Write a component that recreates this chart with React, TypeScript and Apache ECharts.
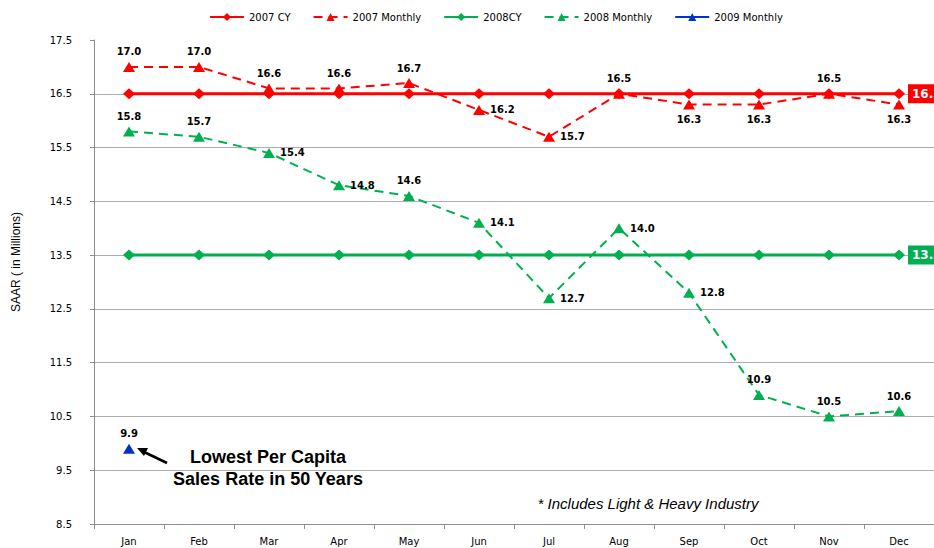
import React, { useEffect, useRef } from "react";
import * as echarts from "echarts";

const months = ["Jan", "Feb", "Mar", "Apr", "May", "Jun", "Jul", "Aug", "Sep", "Oct", "Nov", "Dec"];
const cy2007 = [16.5, 16.5, 16.5, 16.5, 16.5, 16.5, 16.5, 16.5, 16.5, 16.5, 16.5, 16.5];
const monthly2007 = [17.0, 17.0, 16.6, 16.6, 16.7, 16.2, 15.7, 16.5, 16.3, 16.3, 16.5, 16.3];
const cy2008 = [13.5, 13.5, 13.5, 13.5, 13.5, 13.5, 13.5, 13.5, 13.5, 13.5, 13.5, 13.5];
const monthly2008 = [15.8, 15.7, 15.4, 14.8, 14.6, 14.1, 12.7, 14.0, 12.8, 10.9, 10.5, 10.6];
const monthly2009 = [9.9];
const yTicks = [8.5, 9.5, 10.5, 11.5, 12.5, 13.5, 14.5, 15.5, 16.5, 17.5];

const pos2007 = ["top", "top", "top", "top", "top", "right", "right", "top", "bottom", "bottom", "top", "bottom"];
const pos2008 = ["top", "top", "right", "right", "top", "right", "right", "right", "right", "top", "top", "top"];

const RED = "#FF0000";
const GREEN = "#00B050";
const BLUE = "#0033CC";
const FONT = "DejaVu Sans";

const valueLabel = {
  show: true,
  color: "#000",
  fontFamily: FONT,
  fontWeight: "bold" as const,
  fontSize: 10,
  distance: 5,
  formatter: (p: any) => Number(p.value).toFixed(1),
};

function cyData(values: number[], color: string) {
  return values.map((v, i) =>
    i === values.length - 1
      ? {
          value: v,
          label: {
            show: true,
            position: "right",
            distance: 3,
            backgroundColor: color,
            color: "#fff",
            fontFamily: FONT,
            fontWeight: "bold",
            fontSize: 12,
            padding: [4, 5, 3, 4],
            formatter: (p: any) => Number(p.value).toFixed(1),
          },
        }
      : { value: v }
  );
}

function monthlyData(values: number[], positions: string[]) {
  return values.map((v, i) => ({ value: v, label: { ...valueLabel, position: positions[i] } }));
}

export default function App() {
  const ref = useRef<HTMLDivElement>(null);
  useEffect(() => {
    if (!ref.current) return;
    const chart = echarts.init(ref.current, null, { renderer: "svg" });
    chart.setOption({
      animation: false,
      backgroundColor: "#fff",
      textStyle: { fontFamily: FONT },
      legend: {
        left: 204,
        top: 7,
        itemWidth: 34,
        itemHeight: 10,
        itemGap: 22,
        textStyle: { fontFamily: FONT, fontSize: 10, color: "#000" },
        data: ["2007 CY", "2007 Monthly", "2008CY", "2008 Monthly", "2009 Monthly"],
      },
      grid: { left: 94, right: 0, top: 40, bottom: 24, containLabel: false },
      xAxis: {
        type: "category",
        data: months,
        boundaryGap: true,
        axisLine: { lineStyle: { color: "#8C8C8C", width: 1 } },
        axisTick: { show: true, length: 5, lineStyle: { color: "#8C8C8C" } },
        axisLabel: { fontFamily: FONT, fontSize: 10, color: "#000", margin: 12 },
        splitLine: { show: false },
      },
      yAxis: {
        type: "value",
        min: 8.5,
        max: 17.5,
        axisLine: { show: true, lineStyle: { color: "#8C8C8C", width: 1 } },
        axisTick: { show: true, length: 4, customValues: yTicks, lineStyle: { color: "#8C8C8C" } },
        axisLabel: {
          customValues: yTicks,
          fontFamily: FONT,
          fontSize: 10,
          color: "#000",
          margin: 22,
          formatter: (v: number) => v.toFixed(1),
        },
        splitLine: { show: true, showMaxLine: false, lineStyle: { color: "#ADADAD", width: 1 } },
      },
      graphic: [
        {
          type: "text",
          x: 16,
          y: 262,
          rotation: Math.PI / 2,
          style: {
            text: "SAAR ( in Millions)",
            fontFamily: "Liberation Sans",
            fontSize: 12,
            fill: "#000",
            align: "center",
            verticalAlign: "middle",
          },
        },
        {
          type: "text",
          x: 268,
          y: 457,
          style: {
            text: "Lowest Per Capita",
            fontFamily: "Liberation Sans",
            fontWeight: "bold",
            fontSize: 18,
            fill: "#000",
            align: "center",
            verticalAlign: "middle",
          },
        },
        {
          type: "text",
          x: 268,
          y: 479,
          style: {
            text: "Sales Rate in 50 Years",
            fontFamily: "Liberation Sans",
            fontWeight: "bold",
            fontSize: 18,
            fill: "#000",
            align: "center",
            verticalAlign: "middle",
          },
        },
        {
          type: "line",
          shape: { x1: 167, y1: 463, x2: 142, y2: 451 },
          style: { stroke: "#000", lineWidth: 2.5 },
        },
        {
          type: "polygon",
          shape: { points: [[137, 448], [148, 448], [144, 456]] },
          style: { fill: "#000" },
        },
        {
          type: "text",
          x: 648,
          y: 503,
          style: {
            text: "* Includes Light & Heavy Industry",
            fontFamily: "Liberation Sans",
            fontStyle: "italic",
            fontSize: 15,
            fill: "#000",
            align: "center",
            verticalAlign: "middle",
          },
        },
      ],
      series: [
        {
          name: "2007 CY",
          type: "line",
          data: cyData(cy2007, RED),
          symbol: "diamond",
          symbolSize: [12, 11],
          itemStyle: { color: RED },
          lineStyle: { color: RED, width: 3 },
          z: 2,
        },
        {
          name: "2007 Monthly",
          type: "line",
          data: monthlyData(monthly2007, pos2007),
          symbol: "triangle",
          symbolSize: [12, 10],
          itemStyle: { color: RED },
          lineStyle: { color: RED, width: 2, type: [9, 6] },
          z: 3,
        },
        {
          name: "2008CY",
          type: "line",
          data: cyData(cy2008, GREEN),
          symbol: "diamond",
          symbolSize: [12, 11],
          itemStyle: { color: GREEN },
          lineStyle: { color: GREEN, width: 3 },
          z: 2,
        },
        {
          name: "2008 Monthly",
          type: "line",
          data: monthlyData(monthly2008, pos2008),
          symbol: "triangle",
          symbolSize: [12, 10],
          itemStyle: { color: GREEN },
          lineStyle: { color: GREEN, width: 2, type: [9, 6] },
          z: 3,
        },
        {
          name: "2009 Monthly",
          type: "line",
          data: monthlyData(monthly2009, ["top"]),
          symbol: "triangle",
          symbolSize: [12, 10],
          itemStyle: { color: BLUE },
          lineStyle: { color: BLUE, width: 2 },
          z: 3,
        },
      ],
    });
    return () => chart.dispose();
  }, []);
  return (
    <div
      ref={ref}
      style={{ position: "fixed", left: 0, top: 0, width: 934, height: 548, overflow: "hidden" }}
    />
  );
}
